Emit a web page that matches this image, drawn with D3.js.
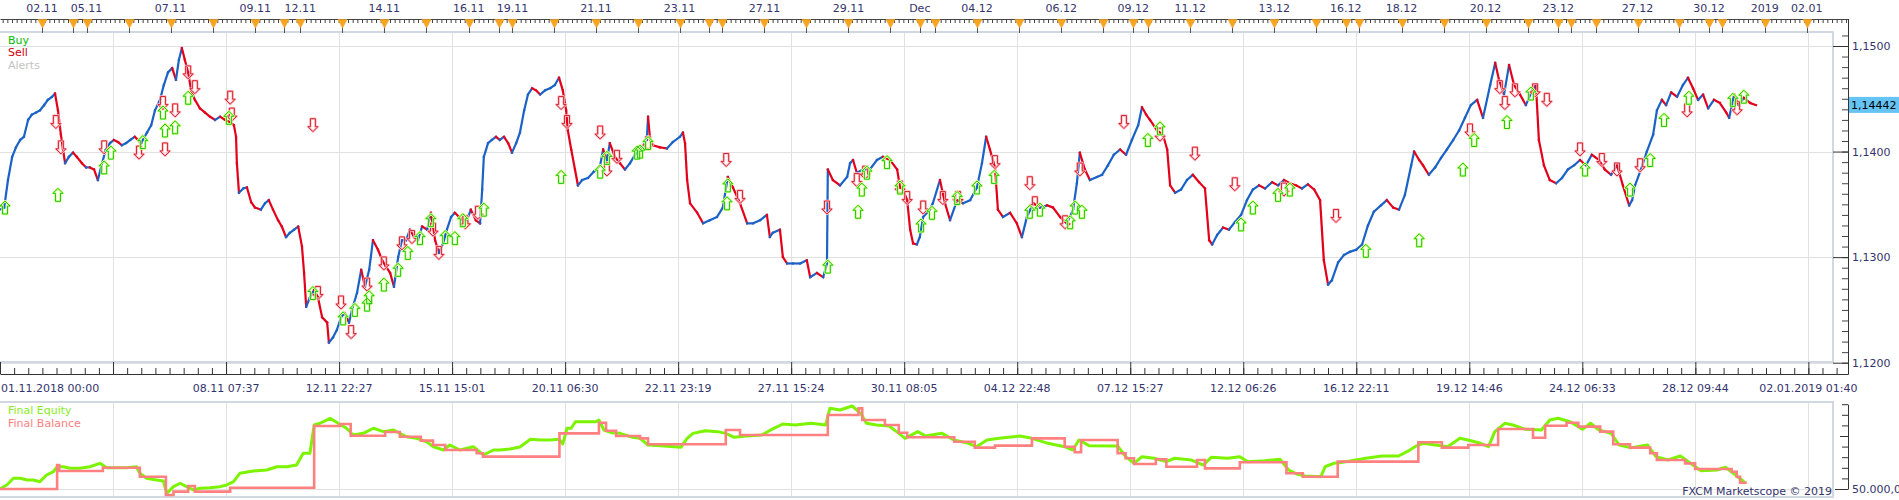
<!DOCTYPE html>
<html>
<head>
<meta charset="utf-8">
<script src="https://cdn.jsdelivr.net/npm/d3@7"></script>
<style>
body{margin:0;background:#fff;}
svg{display:block;font-family:"DejaVu Sans",sans-serif;font-size:11px;}
</style>
</head>
<body>
<div id="chart"></div>
<script>
// x values are trading days counted from 01.11.2018 00:00
var priceData = [[0,1.1345],[0.10,1.1347],[0.19,1.1373],[0.29,1.1395],[0.38,1.1404],[0.48,1.1411],[0.57,1.1414],[0.67,1.1430],[0.76,1.1435],[0.86,1.1437],[0.95,1.1439],[1.05,1.1444],[1.14,1.1449],[1.24,1.1452],[1.31,1.1455],[1.38,1.1439],[1.45,1.1416],[1.50,1.1402],[1.55,1.1389],[1.64,1.1395],[1.74,1.1399],[1.83,1.1395],[1.95,1.1389],[2.05,1.1385],[2.14,1.1385],[2.24,1.1383],[2.33,1.1373],[2.43,1.1389],[2.52,1.1402],[2.62,1.1408],[2.71,1.1411],[2.81,1.1409],[2.90,1.1406],[3.00,1.1408],[3.10,1.1411],[3.21,1.1414],[3.36,1.1408],[3.50,1.1418],[3.60,1.1425],[3.69,1.1439],[3.81,1.1449],[3.90,1.1463],[4.00,1.1475],[4.10,1.1479],[4.19,1.1468],[4.26,1.1487],[4.33,1.1498],[4.40,1.1487],[4.48,1.1475],[4.55,1.1458],[4.64,1.1449],[4.76,1.1441],[4.88,1.1437],[5.00,1.1433],[5.12,1.1430],[5.24,1.1433],[5.36,1.1430],[5.48,1.1428],[5.57,1.1425],[5.62,1.1414],[5.64,1.1389],[5.69,1.1361],[5.79,1.1365],[5.88,1.1366],[5.98,1.1352],[6.07,1.1347],[6.21,1.1345],[6.31,1.1351],[6.40,1.1354],[6.50,1.1345],[6.62,1.1335],[6.71,1.1329],[6.81,1.1319],[6.90,1.1323],[7.00,1.1326],[7.10,1.1329],[7.19,1.1310],[7.24,1.1285],[7.29,1.1253],[7.38,1.1262],[7.48,1.1269],[7.57,1.1262],[7.67,1.1243],[7.79,1.1238],[7.83,1.1219],[7.93,1.1224],[8.02,1.1231],[8.12,1.1243],[8.21,1.1247],[8.31,1.1238],[8.40,1.1253],[8.50,1.1266],[8.60,1.1288],[8.69,1.1272],[8.79,1.1288],[8.88,1.1316],[9.00,1.1307],[9.10,1.1297],[9.19,1.1291],[9.29,1.1285],[9.38,1.1272],[9.48,1.1300],[9.57,1.1316],[9.67,1.1316],[9.76,1.1326],[9.86,1.1319],[9.95,1.1316],[10.05,1.1329],[10.17,1.1326],[10.26,1.1342],[10.36,1.1316],[10.45,1.1304],[10.55,1.1313],[10.64,1.1326],[10.74,1.1338],[10.83,1.1342],[10.93,1.1338],[11.02,1.1335],[11.12,1.1335],[11.21,1.1345],[11.33,1.1335],[11.43,1.1332],[11.48,1.1364],[11.52,1.1395],[11.62,1.1408],[11.71,1.1411],[11.81,1.1414],[11.90,1.1411],[12.00,1.1414],[12.10,1.1408],[12.19,1.1399],[12.29,1.1408],[12.38,1.1418],[12.48,1.1439],[12.57,1.1454],[12.67,1.1460],[12.76,1.1458],[12.86,1.1454],[12.98,1.1458],[13.10,1.1460],[13.21,1.1463],[13.31,1.1470],[13.40,1.1458],[13.48,1.1439],[13.52,1.1420],[13.60,1.1402],[13.69,1.1383],[13.76,1.1368],[13.86,1.1373],[14.00,1.1375],[14.14,1.1381],[14.29,1.1387],[14.36,1.1402],[14.45,1.1392],[14.52,1.1408],[14.64,1.1395],[14.76,1.1389],[14.88,1.1383],[15.00,1.1389],[15.12,1.1397],[15.24,1.1402],[15.40,1.1411],[15.43,1.1433],[15.48,1.1411],[15.55,1.1406],[15.71,1.1404],[15.88,1.1403],[16.02,1.1409],[16.19,1.1414],[16.26,1.1418],[16.31,1.1408],[16.36,1.1373],[16.43,1.1351],[16.60,1.1342],[16.74,1.1332],[16.90,1.1335],[17.07,1.1338],[17.21,1.1347],[17.33,1.1376],[17.45,1.1366],[17.62,1.1351],[17.79,1.1332],[17.93,1.1332],[18.10,1.1335],[18.26,1.1340],[18.33,1.1319],[18.40,1.1323],[18.57,1.1326],[18.64,1.1300],[18.74,1.1294],[18.88,1.1294],[19.05,1.1294],[19.21,1.1297],[19.29,1.1281],[19.45,1.1285],[19.60,1.1281],[19.69,1.1294],[19.71,1.1383],[19.83,1.1373],[20.00,1.1368],[20.17,1.1376],[20.24,1.1389],[20.31,1.1392],[20.40,1.1380],[20.55,1.1383],[20.71,1.1383],[20.88,1.1392],[21.02,1.1395],[21.19,1.1392],[21.36,1.1383],[21.43,1.1366],[21.50,1.1364],[21.60,1.1354],[21.67,1.1326],[21.74,1.1313],[21.83,1.1312],[21.90,1.1319],[21.98,1.1338],[22.14,1.1345],[22.21,1.1351],[22.38,1.1373],[22.50,1.1351],[22.62,1.1335],[22.79,1.1354],[22.93,1.1351],[23.10,1.1354],[23.26,1.1366],[23.38,1.1389],[23.48,1.1414],[23.57,1.1402],[23.69,1.1385],[23.76,1.1345],[23.88,1.1338],[24.05,1.1342],[24.21,1.1332],[24.33,1.1319],[24.45,1.1338],[24.60,1.1351],[24.76,1.1347],[24.93,1.1349],[25.07,1.1347],[25.24,1.1338],[25.40,1.1332],[25.55,1.1345],[25.64,1.1370],[25.71,1.1399],[25.83,1.1383],[25.95,1.1373],[26.12,1.1376],[26.24,1.1378],[26.38,1.1387],[26.52,1.1397],[26.67,1.1402],[26.81,1.1397],[26.95,1.1411],[27.10,1.1425],[27.19,1.1442],[27.29,1.1435],[27.38,1.1430],[27.55,1.1420],[27.69,1.1416],[27.79,1.1402],[27.86,1.1368],[27.98,1.1361],[28.12,1.1364],[28.26,1.1373],[28.40,1.1378],[28.55,1.1371],[28.69,1.1365],[28.79,1.1316],[28.86,1.1312],[28.98,1.1321],[29.12,1.1328],[29.26,1.1326],[29.40,1.1333],[29.55,1.1340],[29.69,1.1354],[29.83,1.1364],[29.98,1.1368],[30.12,1.1365],[30.29,1.1371],[30.43,1.1368],[30.57,1.1373],[30.71,1.1370],[30.86,1.1368],[31.00,1.1365],[31.14,1.1369],[31.29,1.1364],[31.43,1.1354],[31.52,1.1297],[31.62,1.1274],[31.71,1.1278],[31.86,1.1295],[32.00,1.1302],[32.14,1.1305],[32.29,1.1307],[32.43,1.1312],[32.57,1.1330],[32.71,1.1343],[32.88,1.1349],[33.02,1.1354],[33.17,1.1347],[33.31,1.1345],[33.45,1.1359],[33.60,1.1387],[33.67,1.1400],[33.79,1.1392],[33.88,1.1387],[34.02,1.1378],[34.17,1.1385],[34.31,1.1394],[34.45,1.1402],[34.60,1.1411],[34.74,1.1420],[34.88,1.1432],[35.02,1.1444],[35.17,1.1449],[35.31,1.1432],[35.48,1.1463],[35.60,1.1484],[35.69,1.1468],[35.81,1.1454],[35.93,1.1482],[36.05,1.1463],[36.19,1.1454],[36.33,1.1444],[36.48,1.1458],[36.57,1.1463],[36.64,1.1411],[36.76,1.1387],[36.90,1.1373],[37.05,1.1370],[37.19,1.1375],[37.33,1.1383],[37.48,1.1387],[37.62,1.1392],[37.76,1.1387],[37.90,1.1397],[38.07,1.1392],[38.21,1.1383],[38.36,1.1378],[38.50,1.1387],[38.64,1.1368],[38.79,1.1349],[38.86,1.1354],[38.93,1.1368],[39.07,1.1383],[39.21,1.1400],[39.36,1.1416],[39.45,1.1439],[39.57,1.1449],[39.67,1.1444],[39.79,1.1456],[39.93,1.1452],[40.07,1.1463],[40.19,1.1470],[40.31,1.1460],[40.43,1.1449],[40.55,1.1454],[40.67,1.1441],[40.81,1.1449],[40.95,1.1446],[41.10,1.1437],[41.17,1.1432],[41.29,1.1454],[41.40,1.1444],[41.52,1.1451],[41.67,1.1446],[41.81,1.1444]];

var buySignals = [[0.12,1.1347],[1.38,1.1359],[2.48,1.1385],[2.64,1.1399],[3.40,1.1409],[3.88,1.1437],[3.93,1.1420],[4.17,1.1423],[4.48,1.1451],[5.45,1.1432],[7.45,1.1266],[8.17,1.1242],[8.45,1.1250],[8.74,1.1255],[8.79,1.1262],[9.14,1.1274],[9.48,1.1288],[9.71,1.1304],[10.00,1.1318],[10.26,1.1335],[10.60,1.1319],[10.83,1.1318],[11.02,1.1335],[11.52,1.1345],[13.36,1.1376],[14.29,1.1381],[14.45,1.1394],[15.17,1.1399],[15.24,1.1400],[15.43,1.1408],[17.33,1.1368],[17.31,1.1351],[19.71,1.1291],[20.43,1.1343],[20.52,1.1364],[20.64,1.1380],[21.12,1.1390],[21.43,1.1366],[21.93,1.1330],[22.19,1.1342],[22.79,1.1356],[23.26,1.1366],[23.67,1.1376],[24.52,1.1343],[24.76,1.1345],[25.48,1.1333],[25.60,1.1347],[25.76,1.1343],[27.33,1.1411],[27.62,1.1422],[29.55,1.1331],[29.83,1.1347],[30.43,1.1359],[30.71,1.1364],[32.52,1.1306],[33.79,1.1316],[34.83,1.1383],[35.10,1.1411],[35.88,1.1428],[36.45,1.1455],[37.74,1.1383],[38.81,1.1364],[39.29,1.1392],[39.62,1.1430],[40.21,1.1451],[41.26,1.1449],[41.52,1.1452]];

var sellSignals = [[1.33,1.1428],[1.45,1.1404],[2.48,1.1404],[3.31,1.1399],[3.88,1.1446],[3.93,1.1402],[4.17,1.1439],[4.48,1.1475],[4.64,1.1461],[5.48,1.1451],[5.52,1.1435],[7.45,1.1425],[7.57,1.1266],[8.12,1.1257],[8.36,1.1229],[8.74,1.1274],[9.14,1.1294],[9.57,1.1313],[9.81,1.1319],[10.31,1.1326],[10.45,1.1304],[11.08,1.1333],[11.38,1.1342],[13.36,1.1446],[13.50,1.1428],[14.29,1.1418],[14.45,1.1383],[14.69,1.1395],[15.43,1.1408],[17.29,1.1392],[17.62,1.1357],[19.69,1.1347],[20.40,1.1373],[20.60,1.1380],[21.43,1.1366],[21.60,1.1356],[21.98,1.1347],[22.45,1.1356],[22.81,1.1356],[23.69,1.1390],[24.52,1.1370],[24.64,1.1351],[25.36,1.1333],[25.71,1.1383],[26.76,1.1428],[27.62,1.1416],[28.45,1.1398],[29.40,1.1369],[30.57,1.1364],[31.81,1.1339],[35.00,1.1420],[35.71,1.1461],[35.83,1.1446],[36.07,1.1458],[36.55,1.1458],[36.83,1.1449],[37.62,1.1402],[38.14,1.1392],[38.50,1.1383],[39.05,1.1387],[40.17,1.1439],[41.36,1.1441]];

var equityData = [[0,50000],[0.16,50380],[0.32,51010],[0.48,51010],[0.64,50850],[0.79,50850],[0.95,50690],[1.11,51320],[1.27,51630],[1.36,52100],[1.51,52100],[1.67,51950],[1.90,51950],[2.14,52100],[2.38,52420],[2.54,52010],[2.78,52010],[3.02,52010],[3.25,52100],[3.33,51480],[3.49,51010],[3.73,50850],[3.89,50750],[3.97,49590],[4.13,50220],[4.29,50540],[4.44,50220],[4.60,49910],[4.76,50070],[5.00,50120],[5.24,50220],[5.40,50380],[5.56,50690],[5.71,51480],[6.03,51700],[6.35,51790],[6.59,52100],[6.83,52100],[7.06,52260],[7.22,53370],[7.38,53370],[7.48,56040],[7.62,56200],[7.86,56670],[8.05,56200],[8.25,55730],[8.41,55090],[8.65,55250],[8.89,55730],[9.13,55410],[9.36,55570],[9.52,55250],[9.68,54930],[9.92,54780],[10.16,54460],[10.32,53990],[10.56,53680],[10.71,54150],[10.95,53680],[11.27,53990],[11.51,53210],[11.75,53680],[11.90,53680],[12.14,53770],[12.38,53960],[12.63,54690],[12.86,54620],[13.10,54620],[13.31,54690],[13.40,54250],[13.50,55730],[13.60,55730],[13.70,56350],[13.90,56350],[14.19,56350],[14.26,56510],[14.38,55570],[14.57,55310],[14.76,55250],[15.06,54880],[15.24,54780],[15.43,54150],[15.82,54060],[16.21,53930],[16.36,54780],[16.50,55250],[16.79,55500],[17.09,55410],[17.28,55250],[17.48,54880],[17.76,55000],[18.14,55090],[18.35,55570],[18.64,56130],[18.93,56040],[19.31,56200],[19.66,56040],[19.76,57610],[20.00,57450],[20.29,57830],[20.49,57140],[20.63,56200],[20.87,56040],[21.17,55940],[21.40,55250],[21.55,54780],[21.85,55410],[22.04,55000],[22.43,55250],[22.71,54620],[23.01,54370],[23.25,53990],[23.50,54620],[23.79,54780],[24.28,55000],[24.57,54780],[24.95,54310],[25.35,53990],[25.54,53680],[25.69,54620],[25.93,54090],[26.61,54060],[26.80,53050],[27.00,52420],[27.19,53050],[27.48,52900],[27.77,52580],[27.97,52900],[28.36,52740],[28.65,52260],[28.84,52990],[29.23,52900],[29.52,53050],[29.71,52580],[30.11,52670],[30.48,52800],[30.68,51790],[30.87,51420],[31.07,51230],[31.45,51160],[31.55,52100],[31.75,52420],[31.90,52480],[32.52,52900],[32.91,53110],[33.30,53110],[33.50,53520],[33.69,53990],[33.88,54310],[34.18,54150],[34.47,53990],[34.76,54780],[34.95,54620],[35.25,54310],[35.44,53990],[35.59,55410],[35.83,56200],[36.02,56040],[36.32,55630],[36.70,55570],[36.90,56510],[37.10,56670],[37.38,56350],[37.68,55630],[37.87,56200],[38.07,55570],[38.36,55250],[38.55,54150],[38.84,53900],[39.23,54150],[39.43,53050],[39.71,52740],[40.01,53110],[40.20,52580],[40.50,51730],[40.88,51790],[41.08,52050],[41.27,51480],[41.47,50850],[41.56,50540]];

var balanceData = [[0,50000],[1.36,52260],[1.41,51700],[2.45,52010],[3.33,51160],[3.95,49430],[4.13,49750],[4.48,50280],[4.64,49750],[5.48,50120],[7.48,55940],[8.10,56130],[8.35,55030],[9.17,55380],[9.52,54930],[10.02,54560],[10.31,54150],[10.60,53680],[11.35,53370],[11.50,53050],[13.32,55250],[14.26,56250],[14.43,55500],[14.67,55000],[15.24,54780],[15.43,54220],[17.28,55570],[17.62,55090],[19.71,56980],[20.44,57610],[20.53,56510],[21.07,56040],[21.40,55310],[21.60,54880],[22.72,54460],[23.21,53900],[23.69,54090],[24.57,54780],[25.35,53990],[25.59,53460],[25.74,54620],[26.61,53370],[26.80,52900],[27.00,52360],[27.52,52800],[27.77,52100],[28.50,52740],[28.69,51950],[29.52,52520],[30.63,51480],[31.02,51160],[31.85,52580],[33.77,54410],[34.33,53900],[34.96,54150],[35.67,55660],[36.50,54840],[36.79,55970],[37.30,56250],[37.58,55880],[38.10,55410],[38.41,54220],[38.81,53900],[39.29,53370],[39.45,52740],[40.12,52420],[40.36,51890],[41.23,51630],[41.35,51160],[41.43,50590],[41.59,50590]];

// news / session markers on the top strip, and the dates written above them
var topMarkers = [1.00,1.73,2.06,3.07,4.06,5.07,6.08,6.77,7.15,8.14,9.15,10.15,11.16,11.87,12.20,13.20,14.19,15.18,16.18,16.89,17.20,18.20,19.20,20.20,21.20,21.90,22.26,23.26,24.27,25.27,26.27,26.98,27.34,28.34,29.34,30.34,31.34,32.04,32.36,33.37,34.37,35.37,36.39,37.10,37.41,38.00,38.99,39.98,40.69,41.01,42.02,43.02];
var topLabelDays = [1.00,2.06,4.06,6.08,7.15,9.15,11.16,12.20,14.19,16.18,18.20,20.20,21.90,23.26,25.27,26.98,28.34,30.34,32.04,33.37,35.37,37.10,38.99,40.69,42.02,43.02];
var topLabels = ['02.11','05.11','07.11','09.11','12.11','14.11','16.11','19.11','21.11','23.11','27.11','29.11','Dec','04.12','06.12','09.12','11.12','13.12','16.12','18.12','20.12','23.12','27.12','30.12','2019','02.01'];

var bottomTickDays = [0,2.691,5.382,8.073,10.764,13.455,16.146,18.837,21.528,24.219,26.910,29.601,32.292,34.983,37.674,40.365,43.056];
var bottomLabels = ['01.11.2018 00:00','','08.11 07:37','12.11 22:27','15.11 15:01','20.11 06:30','22.11 23:19','27.11 15:24','30.11 08:05','04.12 22:48','07.12 15:27','12.12 06:26','16.12 22:11','19.12 14:46','24.12 06:33','28.12 09:44','02.01.2019 01:40'];

var priceTicks = [1.12,1.13,1.14,1.15];
var lastPrice = 1.14442;
var equityTicks = [50000,51000,52000,53000,54000,55000,56000,57000,58000];

document.addEventListener('DOMContentLoaded', function(){
    var width = 1899, height = 500;
    var mainTop = 32, mainBottom = 362, frameRight = 1833, axisX = 1848;
    var topAxisY = 19, bottomAxisY = 374, lowTop = 402, lowBottom = 497;
    var textCol = '#34346c', gridCol = '#e1e1e1', frameCol = '#d2d8e1';

    var x = d3.scaleLinear().domain([0, 44]).range([0, 1848]);
    var yP = d3.scaleLinear().domain([1.12, 1.15]).range([362.7, 46]);
    var yE = d3.scaleLinear().domain([50000, 58000]).range([489, 404.2]);

    var deLocale = d3.formatLocale({decimal: ',', thousands: '.', grouping: [3], currency: ['', '']});
    var fmtPrice = deLocale.format('.4f'), fmtLast = deLocale.format('.5f'), fmtMoney = deLocale.format(',.2f');

    var svg = d3.select('#chart').append('svg')
        .attr('width', width)
        .attr('height', height);

    svg.append('defs').append('clipPath').attr('id', 'mainClip')
        .append('rect').attr('x', 0).attr('y', mainTop).attr('width', frameRight).attr('height', mainBottom - mainTop);

    // grid
    var grid = svg.append('g').attr('stroke', gridCol).attr('stroke-width', 1);
    grid.selectAll('.vg').data(bottomTickDays.slice(1)).enter().append('path')
        .attr('d', function(d){ var px = Math.round(x(d)) + 0.5;
            return 'M' + px + ',' + mainTop + 'V' + mainBottom + 'M' + px + ',' + lowTop + 'V' + lowBottom; });
    grid.selectAll('.hg').data(priceTicks).enter().append('line')
        .attr('x1', 0).attr('x2', frameRight)
        .attr('y1', function(d){ return Math.round(yP(d)) + 0.5; })
        .attr('y2', function(d){ return Math.round(yP(d)) + 0.5; });
    grid.append('line').attr('x1', 0).attr('x2', frameRight)
        .attr('y1', Math.round(yE(50000)) + 0.5).attr('y2', Math.round(yE(50000)) + 0.5);

    // panel frames
    var frames = svg.append('g').attr('fill', 'none').attr('stroke', frameCol).attr('stroke-width', 2);
    frames.append('path').attr('d', 'M0,' + mainTop + 'H' + frameRight + 'V' + mainBottom + 'H0');
    frames.append('path').attr('d', 'M0,' + lowTop + 'H' + frameRight + 'V' + lowBottom + 'H0');

    // top axis with minor ticks and markers
    var topMinor = d3.range(0.0635, 44, 1 / 9);
    svg.append('g').attr('transform', utils.translation(0, topAxisY))
        .call(d3.axisBottom(x).tickValues(topMinor).tickSize(4).tickFormat('').tickSizeOuter(0))
        .call(function(g){ g.selectAll('line,path').attr('stroke', '#444'); });
    var mk = svg.append('g');
    mk.selectAll('line').data(topMarkers).enter().append('line')
        .attr('x1', function(d){ return Math.round(x(d)) + 0.5; })
        .attr('x2', function(d){ return Math.round(x(d)) + 0.5; })
        .attr('y1', topAxisY).attr('y2', mainTop + 1).attr('stroke', '#555');
    mk.selectAll('path').data(topMarkers).enter().append('path')
        .attr('d', function(d){ var px = Math.round(x(d)) + 0.5;
            return 'M' + (px - 4.5) + ',' + (topAxisY + 0.5) + 'H' + (px + 4.5) + 'L' + px + ',' + (topAxisY + 9) + 'Z'; })
        .attr('fill', '#f7a521').attr('stroke', '#f2a02a').attr('stroke-width', 0.6);
    svg.append('g').selectAll('text').data(topLabels).enter().append('text')
        .attr('x', function(d, i){ return x(topLabelDays[i]); })
        .attr('y', 12).attr('text-anchor', 'middle').attr('fill', textCol).text(function(d){ return d; });

    // bottom time axis
    var bottomMinor = d3.range(0, 44, 2.691 / 8);
    svg.append('g').attr('transform', utils.translation(0, bottomAxisY))
        .call(d3.axisTop(x).tickValues(bottomMinor).tickSize(6).tickFormat('').tickSizeOuter(0))
        .call(function(g){ g.selectAll('line,path').attr('stroke', '#333'); });
    svg.append('g').attr('transform', utils.translation(0, bottomAxisY))
        .call(d3.axisTop(x).tickValues(bottomTickDays).tickSize(bottomAxisY - mainBottom).tickFormat('').tickSizeOuter(0))
        .call(function(g){ g.select('.domain').remove(); g.selectAll('line').attr('stroke', '#333'); });
    svg.append('g').selectAll('text').data(bottomLabels).enter().append('text')
        .attr('x', function(d, i){ return i === 0 ? 1 : x(bottomTickDays[i]); })
        .attr('y', 392).attr('text-anchor', function(d, i){ return i === 0 ? 'start' : 'middle'; })
        .attr('fill', textCol).text(function(d){ return d; });

    // price axis on the right
    var pMinor = d3.range(1120, 1152).map(function(v){ return v / 1000; });
    svg.append('g').attr('transform', utils.translation(axisX, 0))
        .call(d3.axisRight(yP).tickValues(pMinor).tickSizeInner(-6).tickSizeOuter(0).tickFormat(''))
        .call(function(g){ g.selectAll('line').attr('stroke', '#444'); g.select('.domain').remove(); });
    svg.append('g').attr('transform', utils.translation(axisX, 0))
        .call(d3.axisRight(yP).tickValues(priceTicks).tickSizeInner(-(axisX - frameRight)).tickSizeOuter(0).tickPadding(4).tickFormat(fmtPrice))
        .call(function(g){ g.select('.domain').remove();
            g.selectAll('line').attr('stroke', '#333');
            g.selectAll('text').attr('fill', textCol).attr('font-size', 11).attr('font-family', '"DejaVu Sans",sans-serif'); });
    svg.append('line').attr('x1', axisX + 0.5).attr('x2', axisX + 0.5).attr('y1', topAxisY).attr('y2', bottomAxisY + 0.5).attr('stroke', '#333');

    // last price tag
    var tagY = yP(lastPrice);
    svg.append('rect').attr('x', axisX + 1).attr('y', tagY - 8).attr('width', width - axisX - 1).attr('height', 16).attr('fill', '#66c4f4');
    svg.append('text').attr('x', axisX + 3).attr('y', tagY + 4).attr('fill', '#000').text(fmtLast(lastPrice));

    // equity axis on the right
    svg.append('g').attr('transform', utils.translation(axisX, 0))
        .call(d3.axisRight(yE).tickValues(equityTicks).tickSizeInner(-6).tickSizeOuter(0).tickFormat(''))
        .call(function(g){ g.selectAll('line,path').attr('stroke', '#333'); });
    svg.append('line').attr('x1', frameRight + 2).attr('x2', axisX).attr('y1', Math.round(yE(50000)) + 0.5).attr('y2', Math.round(yE(50000)) + 0.5).attr('stroke', '#333');
    svg.append('line').attr('x1', axisX - 8).attr('x2', axisX).attr('y1', Math.round(yE(55000)) + 0.5).attr('y2', Math.round(yE(55000)) + 0.5).attr('stroke', '#333');
    svg.append('text').attr('x', axisX + 4).attr('y', yE(50000) + 4).attr('fill', textCol).text(fmtMoney(50000));

    // price series, each step coloured by its direction
    var plot = svg.append('g').attr('clip-path', 'url(#mainClip)');
    var segs = d3.pairs(priceData);
    plot.selectAll('.seg').data(segs).enter().append('line')
        .attr('x1', function(d){ return x(d[0][0]); })
        .attr('y1', function(d){ return yP(d[0][1]); })
        .attr('x2', function(d){ return x(d[1][0]); })
        .attr('y2', function(d){ return yP(d[1][1]); })
        .attr('stroke', function(d){ return d[1][1] >= d[0][1] ? '#1a62c6' : '#e3001b'; })
        .attr('stroke-width', 2.2).attr('stroke-linecap', 'square');

    // trade arrows
    var upArrow = 'M0,-6.5L5,-1.5H2.5V6.5H-2.5V-1.5H-5Z';
    var downArrow = 'M0,6.5L5,1.5H2.5V-6.5H-2.5V1.5H-5Z';
    function arrows(data, shape, glow, edge){
        var g = plot.append('g');
        g.selectAll('.glow').data(data).enter().append('path')
            .attr('d', shape).attr('transform', function(d){ return utils.translation(x(d[0]), yP(d[1])); })
            .attr('fill', 'none').attr('stroke', glow).attr('stroke-width', 2.4).attr('stroke-linejoin', 'round');
        g.selectAll('.edge').data(data).enter().append('path')
            .attr('d', shape).attr('transform', function(d){ return utils.translation(x(d[0]), yP(d[1])); })
            .attr('fill', 'none').attr('stroke', edge).attr('stroke-width', 1);
    }
    arrows(sellSignals, downArrow, '#ffbccb', '#d42a2a');
    arrows(buySignals, upArrow, '#dcff8c', '#18c818');

    // legend of the price panel
    var leg = [['Buy', '#00c000'], ['Sell', '#d00010'], ['Alerts', '#c4c4c4']];
    svg.append('g').selectAll('text').data(leg).enter().append('text')
        .attr('x', 8).attr('y', function(d, i){ return 43.5 + i * 12.6; })
        .attr('fill', function(d){ return d[1]; }).text(function(d){ return d[0]; });

    // equity and balance
    var eqLine = d3.line().x(function(d){ return x(d[0]); }).y(function(d){ return yE(d[1]); });
    var balLine = d3.line().x(function(d){ return x(d[0]); }).y(function(d){ return yE(d[1]); }).curve(d3.curveStepAfter);
    svg.append('path').datum(equityData).attr('d', eqLine)
        .attr('fill', 'none').attr('stroke', '#7cf400').attr('stroke-width', 3).attr('stroke-linejoin', 'round');
    svg.append('path').datum(balanceData).attr('d', balLine)
        .attr('fill', 'none').attr('stroke', '#ff8080').attr('stroke-width', 2.6);

    var leg2 = [['Final Equity', '#88ee22'], ['Final Balance', '#ff8080']];
    svg.append('g').selectAll('text').data(leg2).enter().append('text')
        .attr('x', 8).attr('y', function(d, i){ return 414 + i * 13; })
        .attr('fill', function(d){ return d[1]; }).text(function(d){ return d[0]; });

    svg.append('text').attr('x', frameRight - 1).attr('y', 495).attr('text-anchor', 'end')
        .attr('fill', textCol).text('FXCM Marketscope \u00a9 2019');
});

// Utils
var utils = {
    translation: function (x,y) {return 'translate(' + x + ',' + y + ')';}
};
</script>
</body>
</html>
